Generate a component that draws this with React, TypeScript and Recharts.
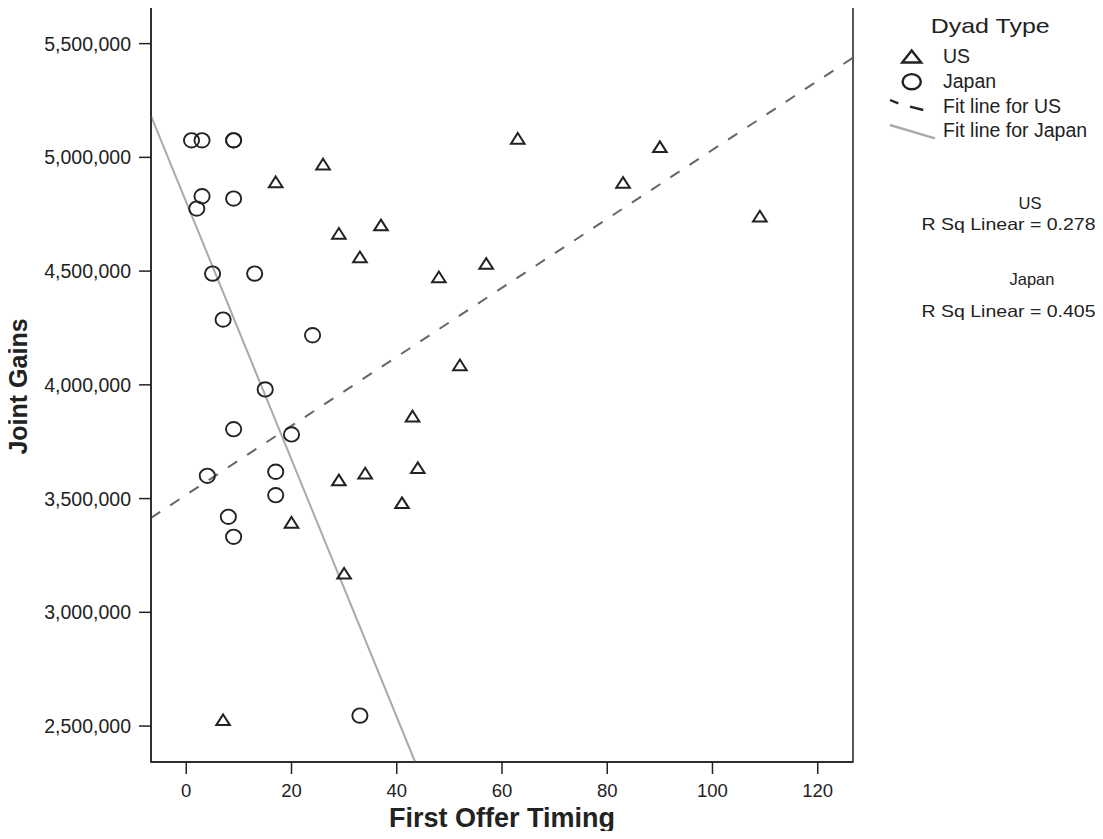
import React from "react";
import {
  ScatterChart,
  Scatter,
  XAxis,
  YAxis,
  ReferenceLine,
  ReferenceArea,
  Legend,
  Label,
} from "recharts";

// First offer timing (x) and joint gains (y)
const usTiming = [26, 17, 29, 37, 33, 48, 57, 63, 90, 83, 109, 52, 43, 44, 34, 29, 41, 20, 30, 7];
const usGains = [
  4970000, 4892000, 4665000, 4702000, 4562000, 4474000, 4533000, 5083000, 5046000, 4889000,
  4741000, 4087000, 3862000, 3635000, 3611000, 3581000, 3481000, 3395000, 3171000, 2527000,
];
const japanTiming = [1, 3, 9, 9, 3, 2, 9, 5, 13, 7, 24, 15, 9, 20, 4, 17, 17, 8, 9, 33];
const japanGains = [
  5075000, 5075000, 5075000, 5075000, 4829000, 4775000, 4819000, 4489000, 4489000, 4287000,
  4218000, 3980000, 3805000, 3782000, 3600000, 3618000, 3515000, 3420000, 3332000, 2546000,
];

// fit line end points (at the plot edges)
const usFitX = [-6.7, 126.7];
const usFitY = [3415000, 5438000];
const japanFitX = [-6.7, 43.5];
const japanFitY = [5182000, 2342000];

const xDomain = [-6.7, 126.7];
const yDomain = [2342000, 5661000];
const xTicks = [0, 20, 40, 60, 80, 100, 120];
const yTicks = [2500000, 3000000, 3500000, 4000000, 4500000, 5000000, 5500000];

const legendTitle = "Dyad Type";
const legendLabels = ["US", "Japan", "Fit line for US", "Fit line for Japan"];
const rSqGroups = ["US", "Japan"];
const rSqValues = ["0.278", "0.405"];

const INK = "#222";
const FONT = "'Liberation Sans', Arial, sans-serif";

const usData = usTiming.map((x, i) => ({ x, y: usGains[i] }));
const japanData = japanTiming.map((x, i) => ({ x, y: japanGains[i] }));

const Triangle = (props: any) => {
  const { cx, cy } = props;
  if (cx == null || cy == null) return null;
  return (
    <path
      d={`M${cx},${cy - 5.5}L${cx + 6.8},${cy + 5.2}L${cx - 6.8},${cy + 5.2}Z`}
      fill="none"
      stroke={INK}
      strokeWidth={2}
    />
  );
};

const Ring = (props: any) => {
  const { cx, cy } = props;
  if (cx == null || cy == null) return null;
  return <ellipse cx={cx} cy={cy} rx={7.6} ry={7.2} fill="none" stroke={INK} strokeWidth={1.9} />;
};

function LegendBox() {
  return (
    <svg width={250} height={340} style={{ display: "block", fontFamily: FONT }}>
      <text x={77.7} y={33} fontSize={21} fill={INK} textLength={119} lengthAdjust="spacingAndGlyphs">
        {legendTitle}
      </text>
      <path d="M58.7,50.5L68.2,62.5L49.2,62.5Z" fill="none" stroke={INK} strokeWidth={2.4} />
      <ellipse cx={58.7} cy={81.7} rx={9.1} ry={7.6} fill="none" stroke={INK} strokeWidth={2.4} />
      <line x1={37} y1={100} x2={45.3} y2={103.3} stroke={INK} strokeWidth={2.4} />
      <line x1={57} y1={106.7} x2={70.3} y2={110} stroke={INK} strokeWidth={2.4} />
      <line x1={37} y1={125} x2={82} y2={138.3} stroke="#aaa" strokeWidth={2.4} />
      {legendLabels.map((t, i) => (
        <text key={t} x={90} y={[63.3, 88.3, 113.3, 137.3][i]} fontSize={19.5} fill={INK}>
          {t}
        </text>
      ))}
      {rSqGroups.map((g, i) => (
        <g key={g}>
          <text x={[177, 179][i]} y={[209, 285][i]} fontSize={16.5} fill={INK} textAnchor="middle">
            {g}
          </text>
          <text
            x={68.5}
            y={[230, 317][i]}
            fontSize={16.5}
            fill={INK}
            textLength={174}
            lengthAdjust="spacingAndGlyphs"
          >
            {`R Sq Linear = ${rSqValues[i]}`}
          </text>
        </g>
      ))}
    </svg>
  );
}

export default function App() {
  const xTickStyle = { fill: INK, fontSize: 18.5, fontFamily: FONT };
  const yTickStyle = { fill: INK, fontSize: 19.5, fontFamily: FONT };
  return (
    <div style={{ margin: -8, background: "#fff", width: 1103, height: 839 }}>
      <ScatterChart width={1103} height={839} margin={{ top: 7, right: 250, bottom: 0, left: 0 }}>
        <XAxis
          type="number"
          dataKey="x"
          domain={xDomain}
          ticks={xTicks}
          allowDataOverflow
          height={77}
          tickSize={12}
          tickMargin={10}
          stroke={INK}
          strokeWidth={1.5}
          tick={xTickStyle}
        >
          <Label
            value="First Offer Timing"
            position="insideBottom"
            offset={12}
            fontSize={27}
            fontWeight="bold"
            fill={INK}
            fontFamily={FONT}
          />
        </XAxis>
        <YAxis
          type="number"
          dataKey="y"
          domain={yDomain}
          ticks={yTicks}
          allowDataOverflow
          width={151}
          tickSize={12}
          tickMargin={8}
          stroke={INK}
          strokeWidth={1.5}
          tick={yTickStyle}
          tickFormatter={(v) => Number(v).toLocaleString("en-US")}
        >
          <Label
            content={(p: any) => {
              const vb = p.viewBox || { x: 0, y: 7, height: 755 };
              const lx = vb.x + 27;
              const ly = vb.y + vb.height / 2 + 2;
              return (
                <text
                  x={lx}
                  y={ly}
                  transform={`rotate(-90 ${lx} ${ly})`}
                  textAnchor="middle"
                  fontSize={25}
                  fontWeight="bold"
                  fill={INK}
                  fontFamily={FONT}
                >
                  Joint Gains
                </text>
              );
            }}
          />
        </YAxis>
        <ReferenceArea
          x1={xDomain[0]}
          x2={xDomain[1]}
          y1={yDomain[0]}
          y2={yDomain[1]}
          fill="none"
          fillOpacity={0}
          stroke={INK}
          strokeWidth={1.5}
          strokeOpacity={1}
          ifOverflow="visible"
        />
        <ReferenceLine
          segment={[
            { x: xDomain[0], y: yDomain[1] },
            { x: xDomain[1], y: yDomain[1] },
          ]}
          stroke={INK}
          strokeWidth={2}
          ifOverflow="visible"
        />
        <ReferenceLine
          segment={[
            { x: japanFitX[0], y: japanFitY[0] },
            { x: japanFitX[1], y: japanFitY[1] },
          ]}
          stroke="#aaa"
          strokeWidth={2}
          ifOverflow="visible"
        />
        <ReferenceLine
          segment={[
            { x: usFitX[0], y: usFitY[0] },
            { x: usFitX[1], y: usFitY[1] },
          ]}
          stroke="#666"
          strokeWidth={2}
          strokeDasharray="11 12"
          ifOverflow="visible"
        />
        <Scatter name="US" data={usData} shape={Triangle} isAnimationActive={false} />
        <Scatter name="Japan" data={japanData} shape={Ring} isAnimationActive={false} />
        <Legend
          layout="vertical"
          align="center"
          verticalAlign="middle"
          wrapperStyle={{ position: "absolute", left: 853, top: 0, width: 250, height: 340 }}
          content={() => <LegendBox />}
        />
      </ScatterChart>
    </div>
  );
}
